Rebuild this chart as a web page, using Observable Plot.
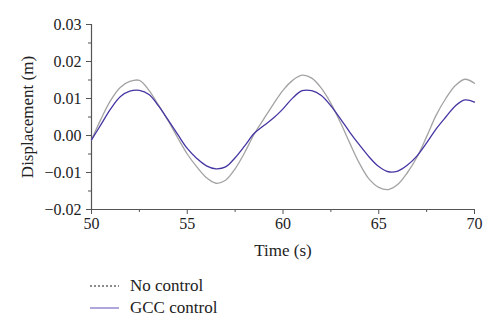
<!DOCTYPE html>
<html>
<head>
<meta charset="utf-8">
<script src="https://cdn.jsdelivr.net/npm/d3@7"></script>
<script src="https://cdn.jsdelivr.net/npm/@observablehq/plot@0.6"></script>
<style>
  html, body { margin: 0; padding: 0; background: #fff; }
  #chart { width: 500px; height: 331px; position: relative; font-family: "Liberation Serif", "DejaVu Serif", serif; }
  .legend { position: absolute; left: 90px; font-size: 17px; color: #222; display: flex; align-items: center; line-height: 18px; }
  .legend svg { margin-right: 11px; }
</style>
</head>
<body>
<div id="chart"></div>
<script>
const time = [50, 50.5, 51, 51.5, 52, 52.5, 53, 53.5, 54, 54.5, 55, 55.5, 56, 56.5, 57, 57.5, 58, 58.5, 59, 59.5, 60, 60.5, 61, 61.5, 62, 62.5, 63, 63.5, 64, 64.5, 65, 65.5, 66, 66.5, 67, 67.5, 68, 68.5, 69, 69.5, 70];
const noControl = [-0.0012, 0.0045, 0.0095, 0.0130, 0.0146, 0.0149, 0.0122, 0.0082, 0.0040, -0.0006, -0.0050, -0.0085, -0.0114, -0.0129, -0.0121, -0.0090, -0.0046, 0.0004, 0.0045, 0.0085, 0.0122, 0.0149, 0.0163, 0.0155, 0.0128, 0.0087, 0.0035, -0.0022, -0.0076, -0.0118, -0.0140, -0.0146, -0.0132, -0.0100, -0.0058, -0.0003, 0.0055, 0.0100, 0.0135, 0.0152, 0.0141];
const gccControl = [-0.0012, 0.0030, 0.0072, 0.0105, 0.0120, 0.0122, 0.0111, 0.0080, 0.0042, 0.0003, -0.0035, -0.0062, -0.0082, -0.0090, -0.0085, -0.0060, -0.0028, 0.0006, 0.0027, 0.0047, 0.0072, 0.0101, 0.0121, 0.0121, 0.0108, 0.0080, 0.0045, 0.0008, -0.0026, -0.0058, -0.0084, -0.0098, -0.0096, -0.0080, -0.0055, -0.0020, 0.0018, 0.0050, 0.0080, 0.0096, 0.0090];
const xTicks = [50, 55, 60, 65, 70];
const xMinor = [52.5, 57.5, 62.5, 67.5];
const yTicks = [-0.02, -0.01, 0.00, 0.01, 0.02, 0.03];
const yMinor = [-0.015, -0.005, 0.005, 0.015, 0.025];
const seriesNames = ["No control", "GCC control"];

const rows = (vals) => time.map((t, i) => ({t, v: vals[i]}));
const axisColor = "#555";

const plot = Plot.plot({
  width: 500,
  height: 262,
  marginLeft: 91,
  marginRight: 26,
  marginTop: 24,
  marginBottom: 53,
  style: {fontFamily: '"Liberation Serif", "DejaVu Serif", serif', fontSize: "16px", color: "#222", background: "#fff"},
  x: {domain: [50, 70]},
  y: {domain: [-0.02, 0.03]},
  marks: [
    Plot.axisX({ticks: xTicks, tickSize: 5, tickPadding: 3, stroke: axisColor, fontSize: 16, tickFormat: d3.format("d"), label: null}),
    Plot.axisX({ticks: xMinor, tickSize: 3, stroke: axisColor, text: null, label: null}),
    Plot.axisY({ticks: yTicks, tickSize: 5, tickPadding: 5, stroke: axisColor, fontSize: 16, tickFormat: d3.format(".2f"), label: null}),
    Plot.axisY({ticks: yMinor, tickSize: 3, stroke: axisColor, text: null, label: null}),
    Plot.text(["Time (s)"], {frameAnchor: "bottom", dy: 46, fontSize: 17, fill: "#222"}),
    Plot.text(["Displacement (m)"], {frameAnchor: "left", textAnchor: "middle", dx: -64, rotate: -90, fontSize: 17, fill: "#222"}),
    Plot.ruleX([50], {stroke: axisColor, strokeWidth: 1.2}),
    Plot.ruleY([-0.02], {stroke: axisColor, strokeWidth: 1.2}),
    Plot.line(rows(noControl), {x: "t", y: "v", stroke: "#a3a3a3", strokeWidth: 1.3, curve: "catmull-rom"}),
    Plot.line(rows(gccControl), {x: "t", y: "v", stroke: "#4436a3", strokeWidth: 1.3, curve: "catmull-rom"})
  ]
});
const chart = document.getElementById("chart");
chart.appendChild(plot);

const legendStyles = [
  {stroke: "#666", dash: "2,2", top: 277},
  {stroke: "#8478c8", dash: null, top: 299}
];
seriesNames.forEach((name, i) => {
  const s = legendStyles[i];
  const div = document.createElement("div");
  div.className = "legend";
  div.style.top = s.top + "px";
  div.innerHTML = `<svg width="29" height="18"><line x1="0" x2="29" y1="9" y2="9" stroke="${s.stroke}" stroke-width="1.3" ${s.dash ? `stroke-dasharray="${s.dash}"` : ""}/></svg><span>${name}</span>`;
  chart.appendChild(div);
});
</script>
</body>
</html>
